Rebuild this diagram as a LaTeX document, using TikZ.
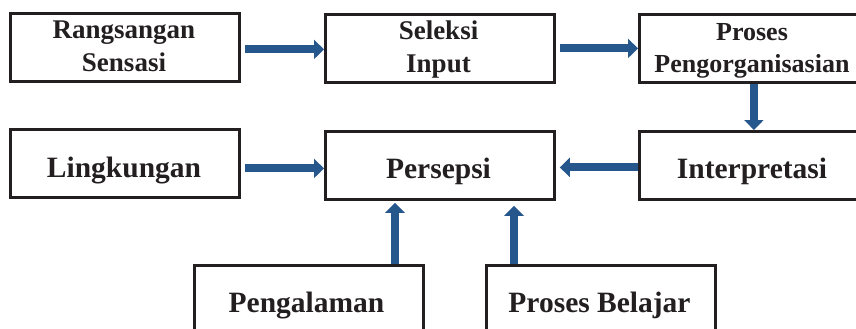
\documentclass[tikz,border=0pt]{standalone}
\usepackage{fontspec}
\setmainfont{Liberation Serif}
\usetikzlibrary{arrows.meta,calc}
\definecolor{arrblue}{RGB}{38,87,140}
\definecolor{boxline}{RGB}{35,31,32}
\begin{document}
\begin{tikzpicture}[x=1pt,y=-1pt,
  box/.style={draw=boxline, line width=2.8pt, minimum width=229pt, minimum height=68pt, inner sep=0pt, anchor=north west},
  lbl/.style={font=\bfseries\fontsize{29.5}{32}\selectfont, anchor=base, inner sep=0pt, text=boxline},
  lbltwo/.style={font=\bfseries\fontsize{27}{32}\selectfont, anchor=base, inner sep=0pt, text=boxline},
  lblsmall/.style={font=\bfseries\fontsize{26}{32}\selectfont, anchor=base, inner sep=0pt, text=boxline},
  arr/.style={draw=arrblue, line width=8pt, -{Triangle[width=19pt,length=10pt]}}]
\useasboundingbox (0,0) rectangle (856,329);
\clip (0,0) rectangle (856,329);
% boxes
\node[box] (A) at (9,12) {};
\node[box] (B) at (324,13) {};
\node[box] (C) at (638,13) {};
\node[box] (D) at (9,128) {};
\node[box] (E) at (324,130) {};
\node[box] (F) at (638,130) {};
\node[box] (G) at (193,264) {};
\node[box] (H) at (485,264) {};
% labels
\node[lbltwo] (tA1) at (124,39) {Rangsangan};
\node[lbltwo] (tA2) at (124,71) {Sensasi};
\node[lbltwo] (tB1) at (438.5,40) {Seleksi};
\node[lbltwo] (tB2) at (438.5,72) {Input};
\node[lblsmall] (tC1) at (752,41) {Proses};
\node[lblsmall] (tC2) at (752,72) {Pengorganisasian};
\node[lbl] (tD) at (124,177) {Lingkungan};
\node[lbl] (tE) at (438.5,178) {Persepsi};
\node[lbl] (tF) at (752,178) {Interpretasi};
\node[lbl] (tG) at (306.5,312) {Pengalaman};
\node[lbl] (tH) at (599.5,312) {Proses Belajar};
% connectors
\coordinate (g1) at (395,0);
\coordinate (h1) at (514,0);
\draw[arr] ($(A.east)+(4,2)$) -- ($(A.east -| B.west)+(0,2)$);
\draw[arr] ($(B.east)+(4,0)$) -- (B.east -| C.west);
\draw[arr] (C.south) -- (F.north);
\draw[arr] ($(F.west)+(0,2)$) -- ($(E.east)+(4,2)$);
\draw[arr] ($(D.east)+(4,5)$) -- ($(D.east -| E.west)+(0,5)$);
\draw[arr] (G.north -| g1) -- ($(E.south -| g1)+(0,2)$);
\draw[arr] (H.north -| h1) -- ($(E.south -| h1)+(0,5)$);
\end{tikzpicture}
\end{document}
